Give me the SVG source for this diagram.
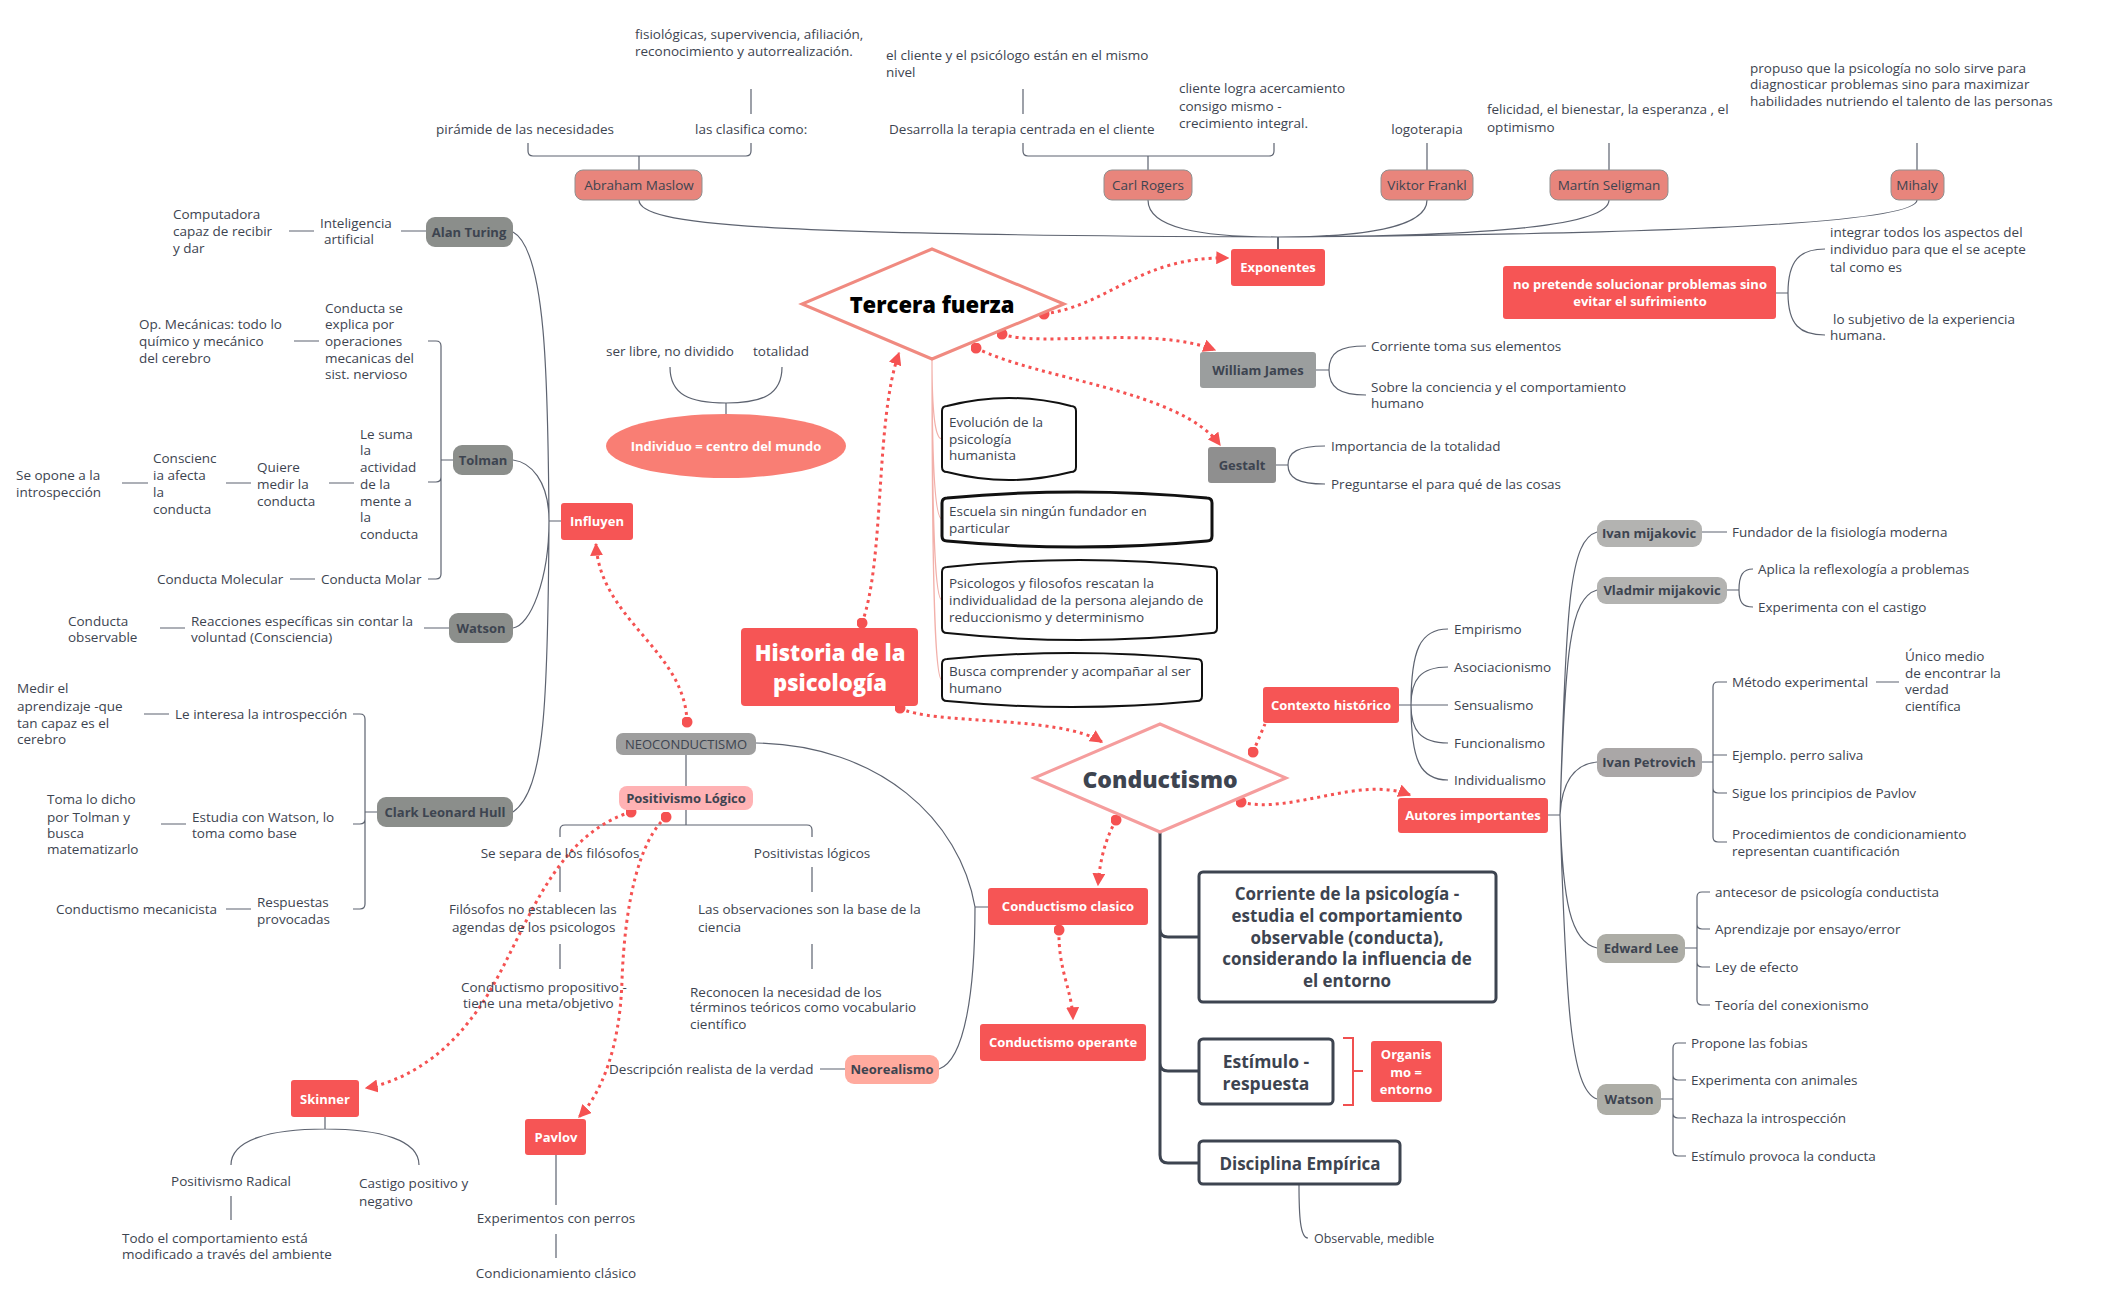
<svg xmlns="http://www.w3.org/2000/svg" width="2101" height="1300" viewBox="0 0 2101 1300">
<defs>
<style>
.t{font-family:"Open Sans","Liberation Sans",sans-serif;font-size:13.5px;fill:#3d4450;dominant-baseline:central}
.s{font-size:12.5px}
.c{text-anchor:middle}
.b{font-weight:bold;font-size:13px}
.w{fill:#fff;font-weight:bold;font-size:13px}
.big{font-size:22px;font-weight:800}
.box{font-size:17px;font-weight:bold}
.ln{fill:none;stroke:#5d6370;stroke-width:1.2}
.tk{fill:none;stroke:#3d4450;stroke-width:3}
.pk{fill:none;stroke:#f2b0aa;stroke-width:1.2}
.dot{fill:none;stroke:#f55252;stroke-width:3;stroke-dasharray:3 4;marker-start:url(#dt)}
.arr{marker-end:url(#ah)}
.red{fill:#f65555}
.sal{fill:#e8857c;stroke:#8f8f8f;stroke-width:1}
.g1{fill:#8b8e8b}
.g2{fill:#9b9e9e}
.g3{fill:#b3b3b1}
.bx{fill:#fff;stroke:#111;stroke-width:2}
.db{fill:#fff;stroke:#3d4450;stroke-width:3}
</style>
<marker id="ah" viewBox="0 0 10 10" refX="9" refY="5" markerWidth="13" markerHeight="13" markerUnits="userSpaceOnUse" orient="auto"><path d="M0,0 L10,5 L0,10 z" fill="#f55252"/></marker>
<marker id="dt" viewBox="0 0 10 10" refX="5" refY="5" markerWidth="11" markerHeight="11" markerUnits="userSpaceOnUse"><circle cx="5" cy="5" r="5" fill="#f55252"/></marker>
</defs>
<rect width="2101" height="1300" fill="#fff"/>

<g id="connectors">
<path class="ln" d="M751,89 L751,114 M1023,89 L1023,114 M1427,143 L1427,170 M1609,143 L1609,170 M1917,143 L1917,170"/>
<path class="ln" d="M528,143 L528,151 Q528,156 533,156 L746,156 Q751,156 751,151 L751,143 M639,156 L639,170"/>
<path class="ln" d="M1023,143 L1023,151 Q1023,156 1028,156 L1269,156 Q1274,156 1274,151 L1274,143 M1148,156 L1148,170"/>
<path class="ln" d="M639,200 C639,225 760,235 1278,237 M1148,200 C1148,228 1200,237 1278,237 M1427,200 C1427,228 1360,237 1278,237 M1609,200 C1609,225 1500,236 1278,237 M1917,200 C1917,222 1700,234 1278,237"/>
<path class="ln" d="M1278,237 L1278,249" style="stroke-width:2"/>
<path class="ln" d="M1776,293 L1788,293 M1788,293 C1788,260 1800,249 1825,249 M1788,293 C1788,325 1800,335 1825,335"/>
<path class="ln" d="M1316,370 L1329,370 M1329,370 C1329,352 1340,346 1366,346 M1329,370 C1329,388 1340,395 1366,395"/>
<path class="ln" d="M1276,465 L1288,465 M1288,465 C1288,452 1298,446 1325,446 M1288,465 C1288,478 1298,484 1325,484"/>
<path class="ln" d="M726,403 L726,414 M670,367 C670,395 690,403 726,403 C762,403 782,395 782,367"/>
<path class="pk" d="M932,359 C932,420 936,439 942,439 M932,359 C932,480 936,519 942,519 M932,359 C932,550 936,600 942,600 M932,359 C932,620 936,680 942,680"/>
<path class="ln" d="M561,521 L549,521 M549,521 C548,380 546,250 513,232 M549,521 C549,480 530,462 513,460 M549,521 C549,580 530,626 513,628 M549,521 C548,700 545,790 513,812"/>
<path class="ln" d="M401,231 L426,231 M289,231 L314,231"/>
<path class="ln" d="M428,341 L436,341 Q441,341 441,346 L441,574 Q441,579 436,579 L428,579 M428,482 L436,482 Q441,482 441,477 M441,460 L453,460"/>
<path class="ln" d="M294,341 L319,341 M329,483 L354,483 M226,483 L251,483 M122,483 L148,483 M290,579 L315,579"/>
<path class="ln" d="M424,628 L449,628 M160,628 L185,628"/>
<path class="ln" d="M353,714 L360,714 Q365,714 365,719 L365,904 Q365,909 360,909 L353,909 M353,824 L360,824 Q365,824 365,819 M365,812 L377,812"/>
<path class="ln" d="M144,714 L169,714 M161,824 L186,824 M226,909 L251,909"/>
<path class="ln" d="M325,1117 L325,1129 M231,1165 C231,1140 270,1129 325,1129 C380,1129 419,1140 419,1165 M231,1196 L231,1220"/>
<path class="ln" d="M686,755 L686,786 M686,810 L686,825 M560,837 L560,830 Q560,825 565,825 L807,825 Q812,825 812,830 L812,837"/>
<path class="ln" d="M560,867 L560,892 M560,944 L560,969 M812,867 L812,892 M812,944 L812,969"/>
<path class="ln" d="M756,743 C880,745 960,820 975,907 M975,907 C975,990 965,1060 939,1069 M975,907 L988,907 M820,1069 L845,1069"/>
<path class="ln" d="M556,1155 L556,1205 M556,1234 L556,1258"/>
<path class="tk" d="M1160,832 L1160,1155 Q1160,1163 1168,1163 L1199,1163 M1160,929 Q1160,937 1168,937 L1199,937 M1160,1063 Q1160,1071 1168,1071 L1199,1071"/>
<path fill="none" stroke="#f05050" stroke-width="2" d="M1343,1038 L1353,1038 L1353,1105 L1343,1105 M1353,1071 L1363,1071"/>
<path class="ln" d="M1299,1184 C1299,1215 1300,1238 1308,1238"/>
<path class="ln" d="M1399,705 L1448,705 M1411,705 C1411,650 1420,629 1448,629 M1411,705 C1411,680 1420,667 1448,667 M1411,705 C1411,730 1420,743 1448,743 M1411,705 C1411,760 1420,780 1448,780"/>
<path class="ln" d="M1548,815 L1560,815 M1560,815 C1566,600 1570,540 1597,532 M1560,815 C1565,650 1570,598 1597,590 M1560,815 C1562,780 1575,764 1597,762 M1560,815 C1563,900 1570,942 1597,948 M1560,815 C1566,1000 1570,1090 1597,1099"/>
<path class="ln" d="M1702,532 L1727,532 M1727,590 L1739,590 M1739,590 C1739,575 1743,569 1753,569 M1739,590 C1739,603 1743,607 1753,607"/>
<path class="ln" d="M1702,762 L1713,762 M1727,682 L1718,682 Q1713,682 1713,687 L1713,837 Q1713,842 1718,842 L1727,842 M1713,755 L1727,755 M1713,788 Q1713,793 1718,793 L1727,793 M1876,682 L1899,682"/>
<path class="ln" d="M1685,948 L1697,948 M1710,892 L1702,892 Q1697,892 1697,897 L1697,1000 Q1697,1005 1702,1005 L1710,1005 M1697,924 Q1697,929 1702,929 L1710,929 M1697,962 Q1697,967 1702,967 L1710,967"/>
<path class="ln" d="M1661,1099 L1673,1099 M1686,1043 L1678,1043 Q1673,1043 1673,1048 L1673,1151 Q1673,1156 1678,1156 L1686,1156 M1673,1075 Q1673,1080 1678,1080 L1686,1080 M1673,1113 Q1673,1118 1678,1118 L1686,1118"/>
<path class="dot arr" d="M1044,314 C1110,305 1140,256 1228,258"/>
<path class="dot arr" d="M1002,334 C1040,348 1150,325 1215,350"/>
<path class="dot arr" d="M976,348 C1040,380 1180,390 1220,445"/>
<path class="dot arr" d="M862,623 C885,560 875,420 899,353"/>
<path class="dot arr" d="M900,708 C930,725 1060,715 1102,742"/>
<path class="dot arr" d="M687,722 C685,650 600,620 596,544"/>
<path class="dot arr" d="M631,812 C540,840 520,960 470,1020 C440,1060 400,1082 366,1088"/>
<path class="dot arr" d="M666,817 C640,840 625,900 622,980 C620,1050 600,1095 579,1117"/>
<path class="dot" d="M1253,752 L1265,724"/>
<path class="dot arr" d="M1241,802 C1290,815 1360,775 1410,795"/>
<path class="dot arr" d="M1116,820 C1105,840 1100,860 1098,885"/>
<path class="dot arr" d="M1059,930 C1058,970 1072,990 1073,1019"/>
</g>

<g id="maslow-notes">
<text class="t"><tspan x="635" y="34">fisiológicas, supervivencia, afiliación,</tspan><tspan x="635" y="51">reconocimiento y autorrealización.</tspan></text>
<text class="t" x="436" y="129">pirámide de las necesidades</text>
<text class="t" x="695" y="129">las clasifica como:</text>
</g>
<g id="maslow"><rect class="sal" x="575" y="170" width="127" height="30" rx="8"/><text class="t c" x="639" y="185">Abraham Maslow</text></g>
<g id="rogers-notes">
<text class="t"><tspan x="886" y="55">el cliente y el psicólogo  están en el mismo</tspan><tspan x="886" y="72">nivel</tspan></text>
<text class="t" x="889" y="129">Desarrolla la terapia centrada en el cliente</text>
<text class="t"><tspan x="1179" y="88">cliente logra acercamiento</tspan><tspan x="1179" y="106">consigo mismo -</tspan><tspan x="1179" y="123">crecimiento integral.</tspan></text>
</g>
<g id="rogers"><rect class="sal" x="1104" y="170" width="88" height="30" rx="8"/><text class="t c" x="1148" y="185">Carl Rogers</text></g>
<g id="frankl-notes"><text class="t c" x="1427" y="129">logoterapia</text></g>
<g id="frankl"><rect class="sal" x="1381" y="170" width="92" height="30" rx="8"/><text class="t c" x="1427" y="185">Viktor Frankl</text></g>
<g id="seligman-notes"><text class="t"><tspan x="1487" y="109">felicidad, el bienestar, la esperanza , el</tspan><tspan x="1487" y="127">optimismo</tspan></text></g>
<g id="seligman"><rect class="sal" x="1550" y="170" width="118" height="30" rx="8"/><text class="t c" x="1609" y="185">Martín Seligman</text></g>
<g id="mihaly-notes"><text class="t"><tspan x="1750" y="68">propuso que la psicología no solo sirve para</tspan><tspan x="1750" y="84">diagnosticar problemas  sino para  maximizar</tspan><tspan x="1750" y="101">habilidades nutriendo el talento de las personas</tspan></text></g>
<g id="mihaly"><rect class="sal" x="1891" y="170" width="53" height="30" rx="8"/><text class="t c" x="1917" y="185">Mihaly</text></g>
<g id="exponentes"><rect class="red" x="1231" y="249" width="94" height="37" rx="3"/><text class="t w c" x="1278" y="267">Exponentes</text></g>

<g id="tercera-fuerza"><polygon points="932,249 1064,304 932,359 802,304" fill="#fff" stroke="#f08a80" stroke-width="3"/><text class="t c big" x="932" y="304" style="fill:#000">Tercera fuerza</text></g>

<g id="no-pretende"><rect class="red" x="1503" y="266" width="273" height="53" rx="3"/><text class="t w c"><tspan x="1640" y="284">no pretende solucionar problemas sino</tspan><tspan x="1640" y="301">evitar el sufrimiento</tspan></text></g>
<g id="no-pretende-notes">
<text class="t"><tspan x="1830" y="232">integrar todos los aspectos del</tspan><tspan x="1830" y="249">individuo para que el se acepte</tspan><tspan x="1830" y="267">tal como es</tspan></text>
<text class="t"><tspan x="1833" y="319">lo subjetivo de la experiencia</tspan><tspan x="1830" y="335">humana.</tspan></text>
</g>

<g id="william-james"><rect class="g2" x="1200" y="352" width="116" height="36" rx="3"/><text class="t b c" x="1258" y="370">William James</text></g>
<g id="william-james-notes">
<text class="t" x="1371" y="346">Corriente toma sus elementos</text>
<text class="t"><tspan x="1371" y="387">Sobre la conciencia y el comportamiento</tspan><tspan x="1371" y="403">humano</tspan></text>
</g>
<g id="gestalt"><rect fill="#8f8f8f" x="1208" y="447" width="68" height="36" rx="3"/><text class="t b c" x="1242" y="465">Gestalt</text></g>
<g id="gestalt-notes">
<text class="t" x="1331" y="446">Importancia de la totalidad</text>
<text class="t" x="1331" y="484">Preguntarse el para qué de las cosas</text>
</g>

<g id="individuo-notes">
<text class="t" x="606" y="351">ser libre, no dividido</text>
<text class="t" x="753" y="351">totalidad</text>
</g>
<g id="individuo"><ellipse cx="726" cy="446" rx="120" ry="32" fill="#f97e74"/><text class="t w c" x="726" y="446">Individuo = centro del mundo</text></g>

<g id="box-evolucion"><path class="bx" d="M942,411 Q942,406 947,406 Q1009,390 1071,406 Q1076,406 1076,411 L1076,467 Q1076,472 1071,472 Q1009,488 947,472 Q942,472 942,467 Z"/><text class="t"><tspan x="949" y="422">Evolución de la</tspan><tspan x="949" y="439">psicología</tspan><tspan x="949" y="455">humanista</tspan></text></g>
<g id="box-escuela"><path class="bx" style="stroke-width:3" d="M942,503 Q942,498 947,498 Q1077,486 1207,498 Q1212,498 1212,503 L1212,536 Q1212,541 1207,541 Q1077,553 947,541 Q942,541 942,536 Z"/><text class="t"><tspan x="949" y="511">Escuela sin ningún fundador en</tspan><tspan x="949" y="528">particular</tspan></text></g>
<g id="box-psicologos"><path class="bx" d="M942,572 Q942,567 947,567 Q1079,553 1212,567 Q1217,567 1217,572 L1217,628 Q1217,633 1212,633 Q1079,647 947,633 Q942,633 942,628 Z"/><text class="t"><tspan x="949" y="583">Psicologos y filosofos rescatan la</tspan><tspan x="949" y="600">individualidad de la persona alejando de</tspan><tspan x="949" y="617">reduccionismo  y determinismo</tspan></text></g>
<g id="box-busca"><path class="bx" d="M942,664 Q942,659 947,659 Q1072,647 1197,659 Q1202,659 1202,664 L1202,696 Q1202,701 1197,701 Q1072,713 947,701 Q942,701 942,696 Z"/><text class="t"><tspan x="949" y="671">Busca comprender y acompañar al ser</tspan><tspan x="949" y="688">humano</tspan></text></g>

<g id="historia"><rect class="red" x="741" y="628" width="177" height="78" rx="4"/><text class="t big c" style="fill:#fff"><tspan x="830" y="652">Historia de la</tspan><tspan x="830" y="682">psicología</tspan></text></g>

<g id="influyen"><rect class="red" x="561" y="503" width="72" height="37" rx="3"/><text class="t w c" x="597" y="521">Influyen</text></g>

<g id="alan-turing"><rect class="g1" x="426" y="217" width="87" height="30" rx="9"/><text class="t b c" x="469" y="232">Alan Turing</text></g>
<g id="alan-turing-notes">
<text class="t"><tspan x="320" y="223">Inteligencia</tspan><tspan x="324" y="239">artificial</tspan></text>
<text class="t"><tspan x="173" y="214">Computadora</tspan><tspan x="173" y="231">capaz de recibir</tspan><tspan x="173" y="248">y dar</tspan></text>
</g>
<g id="tolman"><rect class="g1" x="453" y="445" width="60" height="30" rx="9"/><text class="t b c" x="483" y="460">Tolman</text></g>
<g id="tolman-notes">
<text class="t"><tspan x="325" y="308">Conducta se</tspan><tspan x="325" y="324">explica por</tspan><tspan x="325" y="341">operaciones</tspan><tspan x="325" y="358">mecanicas del</tspan><tspan x="325" y="374">sist. nervioso</tspan></text>
<text class="t"><tspan x="139" y="324">Op. Mecánicas: todo lo</tspan><tspan x="139" y="341">químico y mecánico</tspan><tspan x="139" y="358">del cerebro</tspan></text>
<text class="t"><tspan x="360" y="434">Le suma</tspan><tspan x="360" y="450">la</tspan><tspan x="360" y="467">actividad</tspan><tspan x="360" y="484">de la</tspan><tspan x="360" y="501">mente a</tspan><tspan x="360" y="517">la</tspan><tspan x="360" y="534">conducta</tspan></text>
<text class="t"><tspan x="257" y="467">Quiere</tspan><tspan x="257" y="484">medir la</tspan><tspan x="257" y="501">conducta</tspan></text>
<text class="t"><tspan x="153" y="458">Conscienc</tspan><tspan x="153" y="475">ia afecta</tspan><tspan x="153" y="492">la</tspan><tspan x="153" y="509">conducta</tspan></text>
<text class="t"><tspan x="16" y="475">Se opone a la</tspan><tspan x="16" y="492">introspección</tspan></text>
<text class="t" x="157" y="579">Conducta Molecular</text>
<text class="t" x="321" y="579">Conducta Molar</text>
</g>
<g id="watson-left"><rect class="g1" x="449" y="613" width="64" height="30" rx="9"/><text class="t b c" x="481" y="628">Watson</text></g>
<g id="watson-left-notes">
<text class="t"><tspan x="191" y="621">Reacciones específicas sin contar la</tspan><tspan x="191" y="637">voluntad (Consciencia)</tspan></text>
<text class="t"><tspan x="68" y="621">Conducta</tspan><tspan x="68" y="637">observable</tspan></text>
</g>
<g id="hull"><rect class="g1" x="377" y="797" width="136" height="30" rx="9"/><text class="t b c" x="445" y="812">Clark Leonard Hull</text></g>
<g id="hull-notes">
<text class="t" x="175" y="714">Le interesa la introspección</text>
<text class="t"><tspan x="17" y="688">Medir el</tspan><tspan x="17" y="706">aprendizaje -que</tspan><tspan x="17" y="723">tan capaz es el</tspan><tspan x="17" y="739">cerebro</tspan></text>
<text class="t"><tspan x="192" y="817">Estudia con Watson, lo</tspan><tspan x="192" y="833">toma como base</tspan></text>
<text class="t"><tspan x="47" y="799">Toma lo dicho</tspan><tspan x="47" y="817">por Tolman y</tspan><tspan x="47" y="833">busca</tspan><tspan x="47" y="849">matematizarlo</tspan></text>
<text class="t"><tspan x="257" y="902">Respuestas</tspan><tspan x="257" y="919">provocadas</tspan></text>
<text class="t" x="56" y="909">Conductismo mecanicista</text>
</g>

<g id="skinner"><rect class="red" x="291" y="1080" width="68" height="37" rx="3"/><text class="t w c" x="325" y="1099">Skinner</text></g>
<g id="skinner-notes">
<text class="t c" x="231" y="1181">Positivismo Radical</text>
<text class="t"><tspan x="122" y="1238">Todo el comportamiento está</tspan><tspan x="122" y="1254">modificado a través del ambiente</tspan></text>
<text class="t"><tspan x="359" y="1183">Castigo positivo y</tspan><tspan x="359" y="1201">negativo</tspan></text>
</g>

<g id="neoconductismo"><rect fill="#9e9e9e" x="616" y="733" width="140" height="22" rx="7"/><text class="t c" x="686" y="744" style="font-size:13px">NEOCONDUCTISMO</text></g>
<g id="positivismo-logico"><rect fill="#ffb2b4" x="619" y="786" width="134" height="24" rx="8"/><text class="t b c" x="686" y="798">Positivismo Lógico</text></g>
<g id="positivismo-notes">
<text class="t c" x="560" y="853">Se separa de los filósofos</text>
<text class="t c" x="812" y="853">Positivistas lógicos</text>
<text class="t"><tspan x="449" y="909">Filósofos no establecen las</tspan><tspan x="452" y="927">agendas de los psicologos</tspan></text>
<text class="t"><tspan x="461" y="987">Conductismo propositivo -</tspan><tspan x="463" y="1003">tiene una meta/objetivo</tspan></text>
<text class="t"><tspan x="698" y="909">Las observaciones son la base de la</tspan><tspan x="698" y="927">ciencia</tspan></text>
<text class="t"><tspan x="690" y="992">Reconocen la necesidad de los</tspan><tspan x="690" y="1007">términos teóricos como vocabulario</tspan><tspan x="690" y="1024">científico</tspan></text>
</g>
<g id="neorealismo"><rect fill="#ffaa9e" x="845" y="1055" width="94" height="29" rx="9"/><text class="t b c" x="892" y="1069">Neorealismo</text></g>
<g id="neorealismo-notes"><text class="t" x="609" y="1069">Descripción realista de la verdad</text></g>
<g id="pavlov"><rect class="red" x="525" y="1119" width="61" height="36" rx="3"/><text class="t w c" x="556" y="1137">Pavlov</text></g>
<g id="pavlov-notes">
<text class="t c" x="556" y="1218">Experimentos con perros</text>
<text class="t c" x="556" y="1273">Condicionamiento clásico</text>
</g>

<g id="conductismo"><polygon points="1160,724 1286,778 1160,832 1034,778" fill="#fff" stroke="#f59d9d" stroke-width="3"/><text class="t c big" x="1160" y="779" style="font-size:23px">Conductismo</text></g>
<g id="conductismo-clasico"><rect class="red" x="988" y="888" width="160" height="37" rx="3"/><text class="t w c" x="1068" y="906">Conductismo clasico</text></g>
<g id="conductismo-operante"><rect class="red" x="980" y="1024" width="166" height="37" rx="3"/><text class="t w c" x="1063" y="1042">Conductismo operante</text></g>
<g id="corriente"><rect class="db" x="1199" y="872" width="297" height="130" rx="4"/><text class="t c box"><tspan x="1347" y="893">Corriente de la psicología -</tspan><tspan x="1347" y="915">estudia el comportamiento</tspan><tspan x="1347" y="937">observable (conducta),</tspan><tspan x="1347" y="958">considerando la influencia de</tspan><tspan x="1347" y="980">el entorno</tspan></text></g>
<g id="estimulo"><rect class="db" x="1199" y="1039" width="134" height="65" rx="4"/><text class="t c box" style="font-size:17.5px"><tspan x="1266" y="1061">Estímulo -</tspan><tspan x="1266" y="1083">respuesta</tspan></text></g>
<g id="organismo"><rect class="red" x="1371" y="1041" width="71" height="61" rx="3"/><text class="t w c"><tspan x="1406" y="1054">Organis</tspan><tspan x="1406" y="1072">mo =</tspan><tspan x="1406" y="1089">entorno</tspan></text></g>
<g id="disciplina"><rect class="db" x="1199" y="1141" width="201" height="43" rx="4"/><text class="t c box" x="1300" y="1163">Disciplina Empírica</text></g>
<g id="observable"><text class="t s" x="1314" y="1238">Observable, medible</text></g>

<g id="contexto"><rect class="red" x="1263" y="687" width="136" height="36" rx="3"/><text class="t w c" x="1331" y="705">Contexto histórico</text></g>
<g id="contexto-notes">
<text class="t" x="1454" y="629">Empirismo</text>
<text class="t" x="1454" y="667">Asociacionismo</text>
<text class="t" x="1454" y="705">Sensualismo</text>
<text class="t" x="1454" y="743">Funcionalismo</text>
<text class="t" x="1454" y="780">Individualismo</text>
</g>
<g id="autores"><rect class="red" x="1398" y="798" width="150" height="35" rx="3"/><text class="t w c" x="1473" y="815">Autores importantes</text></g>

<g id="ivan-mijakovic"><rect class="g3" x="1597" y="520" width="105" height="27" rx="9"/><text class="t b c" x="1649" y="533">Ivan mijakovic</text></g>
<g id="ivan-mijakovic-notes"><text class="t" x="1732" y="532">Fundador de la fisiología moderna</text></g>
<g id="vladmir"><rect class="g3" x="1597" y="577" width="130" height="27" rx="9"/><text class="t b c" x="1662" y="590">Vladmir mijakovic</text></g>
<g id="vladmir-notes">
<text class="t" x="1758" y="569">Aplica la reflexología a problemas</text>
<text class="t" x="1758" y="607">Experimenta con el castigo</text>
</g>
<g id="ivan-petrovich"><rect fill="#aaa7a7" x="1597" y="748" width="105" height="29" rx="9"/><text class="t b c" x="1649" y="762">Ivan Petrovich</text></g>
<g id="ivan-petrovich-notes">
<text class="t" x="1732" y="682">Método experimental</text>
<text class="t"><tspan x="1905" y="656">Único medio</tspan><tspan x="1905" y="673">de encontrar la</tspan><tspan x="1905" y="689">verdad</tspan><tspan x="1905" y="706">científica</tspan></text>
<text class="t" x="1732" y="755">Ejemplo. perro saliva</text>
<text class="t" x="1732" y="793">Sigue los principios de Pavlov</text>
<text class="t"><tspan x="1732" y="834">Procedimientos de condicionamiento</tspan><tspan x="1732" y="851">representan cuantificación</tspan></text>
</g>
<g id="edward-lee"><rect fill="#adada6" x="1597" y="934" width="88" height="29" rx="9"/><text class="t b c" x="1641" y="948">Edward Lee</text></g>
<g id="edward-lee-notes">
<text class="t" x="1715" y="892">antecesor de psicología conductista</text>
<text class="t" x="1715" y="929">Aprendizaje por ensayo/error</text>
<text class="t" x="1715" y="967">Ley de efecto</text>
<text class="t" x="1715" y="1005">Teoría del conexionismo</text>
</g>
<g id="watson-right"><rect fill="#adada6" x="1597" y="1084" width="64" height="31" rx="9"/><text class="t b c" x="1629" y="1099">Watson</text></g>
<g id="watson-right-notes">
<text class="t" x="1691" y="1043">Propone las fobias</text>
<text class="t" x="1691" y="1080">Experimenta con animales</text>
<text class="t" x="1691" y="1118">Rechaza la introspección</text>
<text class="t" x="1691" y="1156">Estímulo provoca la conducta</text>
</g>
</svg>
